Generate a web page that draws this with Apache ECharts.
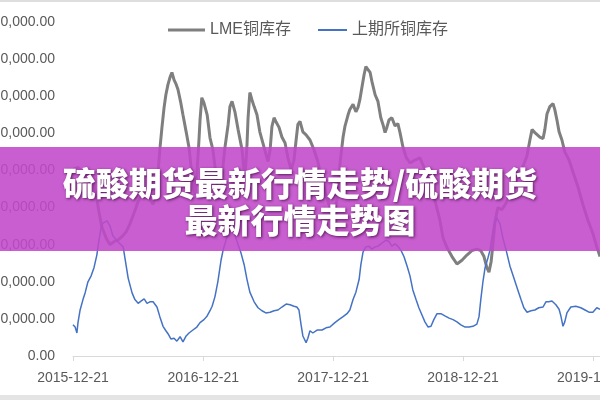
<!DOCTYPE html>
<html>
<head>
<meta charset="utf-8">
<script src="https://cdn.jsdelivr.net/npm/echarts@6/dist/echarts.min.js"></script>
<style>
html,body{margin:0;padding:0;background:#fff;}
#chart{width:600px;height:400px;}
</style>
</head>
<body>
<div id="chart"></div>
<script>
// ---- data ----
const seriesNames = ['LME铜库存', '上期所铜库存'];
const xTickLabels = ['2015-12-21', '2016-12-21', '2017-12-21', '2018-12-21', '2019-12-21'];
const xStart = '2015-12-21';
const xEnd = '2020-01-10';
const yMax = 450000;
const yStep = 50000;
const bannerLines = ['硫酸期货最新行情走势/硫酸期货', '最新行情走势图'];

const lmeDates = ['2015-12-21','2016-01-04','2016-01-18','2016-02-01','2016-02-15','2016-02-24','2016-03-03','2016-03-11','2016-03-23','2016-04-03','2016-04-14','2016-04-25','2016-05-07','2016-05-18','2016-05-29','2016-06-09','2016-06-21','2016-07-02','2016-07-13','2016-07-24','2016-08-02','2016-08-10','2016-08-16','2016-08-21','2016-08-27','2016-09-02','2016-09-07','2016-09-13','2016-09-19','2016-09-24','2016-09-30','2016-10-05','2016-10-11','2016-10-19','2016-10-25','2016-11-03','2016-11-11','2016-11-19','2016-11-28','2016-12-03','2016-12-09','2016-12-12','2016-12-17','2016-12-23','2017-01-01','2017-01-09','2017-01-17','2017-01-26','2017-02-03','2017-02-09','2017-02-15','2017-02-20','2017-03-01','2017-03-06','2017-03-12','2017-03-20','2017-03-29','2017-04-09','2017-04-17','2017-04-23','2017-04-26','2017-05-01','2017-05-07','2017-05-13','2017-05-21','2017-05-29','2017-06-10','2017-06-21','2017-06-27','2017-07-02','2017-07-08','2017-07-13','2017-07-22','2017-07-30','2017-08-08','2017-08-16','2017-08-25','2017-09-02','2017-09-08','2017-09-13','2017-09-19','2017-09-27','2017-10-06','2017-10-17','2017-10-28','2017-11-08','2017-11-20','2017-12-01','2017-12-12','2017-12-23','2018-01-01','2018-01-09','2018-01-18','2018-01-23','2018-02-01','2018-02-06','2018-02-15','2018-02-23','2018-03-01','2018-03-06','2018-03-12','2018-03-18','2018-03-23','2018-03-29','2018-04-04','2018-04-09','2018-04-18','2018-04-26','2018-05-04','2018-05-10','2018-05-16','2018-05-21','2018-05-27','2018-06-04','2018-06-13','2018-06-21','2018-06-27','2018-07-05','2018-07-14','2018-07-25','2018-08-08','2018-08-22','2018-09-05','2018-09-19','2018-10-03','2018-10-17','2018-10-26','2018-11-06','2018-11-20','2018-12-04','2018-12-18','2019-01-01','2019-01-15','2019-01-29','2019-02-09','2019-02-18','2019-02-26','2019-03-04','2019-03-10','2019-03-15','2019-03-21','2019-03-29','2019-04-09','2019-04-21','2019-04-29','2019-05-10','2019-05-24','2019-06-08','2019-06-19','2019-06-27','2019-07-03','2019-07-11','2019-07-25','2019-08-03','2019-08-08','2019-08-14','2019-08-22','2019-08-31','2019-09-05','2019-09-11','2019-09-17','2019-09-25','2019-10-03','2019-10-15','2019-10-26','2019-11-09','2019-11-23','2019-12-07','2019-12-21','2020-01-01','2020-01-10'];
const lmeValues = [251000,254000,248000,243000,237000,217000,194000,174000,159000,150000,154000,156000,161000,167000,178000,192000,208000,217000,220000,212000,204000,224000,247000,278000,308000,335000,352000,366000,376000,382000,372000,367000,359000,341000,325000,302000,281000,244000,217000,244000,291000,318000,348000,341000,325000,294000,278000,244000,210000,224000,258000,281000,312000,336000,343000,329000,305000,278000,237000,285000,321000,355000,345000,336000,325000,302000,281000,262000,278000,309000,321000,316000,308000,295000,287000,267000,251000,264000,291000,312000,316000,302000,298000,291000,278000,262000,237000,217000,200000,192000,210000,258000,295000,309000,325000,332000,339000,329000,335000,345000,362000,379000,390000,386000,382000,370000,352000,343000,321000,312000,301000,308000,318000,321000,310000,313000,301000,282000,268000,260000,264000,267000,251000,235000,210000,183000,159000,146000,134000,124000,129000,136000,142000,144000,142000,134000,119000,113000,127000,150000,181000,200000,197000,206000,216000,227000,241000,256000,270000,291000,305000,301000,295000,293000,305000,326000,336000,340000,332000,318000,302000,291000,275000,264000,248000,228000,204000,183000,165000,147000,134000];

const shfeDates = ['2015-12-21','2015-12-27','2016-01-01','2016-01-04','2016-01-10','2016-01-18','2016-01-24','2016-02-01','2016-02-10','2016-02-18','2016-02-26','2016-03-03','2016-03-09','2016-03-14','2016-03-26','2016-04-03','2016-04-11','2016-04-25','2016-05-10','2016-05-15','2016-05-24','2016-06-04','2016-06-12','2016-06-21','2016-06-29','2016-07-08','2016-07-16','2016-07-24','2016-08-02','2016-08-13','2016-08-21','2016-08-30','2016-09-07','2016-09-13','2016-09-21','2016-09-30','2016-10-08','2016-10-17','2016-10-25','2016-11-03','2016-11-11','2016-11-22','2016-12-03','2016-12-12','2016-12-23','2017-01-01','2017-01-09','2017-01-15','2017-01-23','2017-01-31','2017-02-09','2017-02-15','2017-02-23','2017-03-03','2017-03-12','2017-03-20','2017-03-29','2017-04-06','2017-04-15','2017-04-23','2017-05-01','2017-05-13','2017-05-24','2017-06-04','2017-06-15','2017-06-27','2017-07-08','2017-07-19','2017-07-30','2017-08-11','2017-08-22','2017-09-02','2017-09-10','2017-09-16','2017-09-22','2017-09-27','2017-10-06','2017-10-11','2017-10-17','2017-10-25','2017-11-06','2017-11-20','2017-12-01','2017-12-12','2017-12-26','2018-01-06','2018-01-18','2018-01-29','2018-02-06','2018-02-15','2018-02-23','2018-03-04','2018-03-09','2018-03-15','2018-03-23','2018-04-01','2018-04-09','2018-04-18','2018-04-26','2018-05-07','2018-05-19','2018-05-27','2018-06-04','2018-06-13','2018-06-21','2018-06-30','2018-07-08','2018-07-17','2018-07-25','2018-08-02','2018-08-11','2018-08-19','2018-08-28','2018-09-05','2018-09-14','2018-09-22','2018-09-30','2018-10-09','2018-10-20','2018-10-31','2018-11-12','2018-11-23','2018-12-04','2018-12-15','2018-12-27','2019-01-07','2019-01-18','2019-01-29','2019-02-04','2019-02-09','2019-02-15','2019-02-21','2019-03-01','2019-03-07','2019-03-12','2019-03-18','2019-03-26','2019-04-04','2019-04-12','2019-04-21','2019-05-02','2019-05-13','2019-05-24','2019-06-02','2019-06-10','2019-06-19','2019-06-30','2019-07-11','2019-07-22','2019-08-03','2019-08-11','2019-08-19','2019-08-28','2019-09-08','2019-09-17','2019-09-22','2019-09-28','2019-10-03','2019-10-09','2019-10-20','2019-11-03','2019-11-17','2019-11-29','2019-12-10','2019-12-21','2020-01-01','2020-01-10'];
const shfeValues = [42000,39000,31000,45000,62000,76000,85000,100000,108000,119000,136000,156000,173000,179000,182000,175000,162000,154000,147000,132000,105000,85000,76000,71000,74000,77000,71000,73000,73000,66000,53000,40000,34000,30000,23000,24000,20000,26000,19000,27000,31000,35000,39000,45000,49000,54000,61000,67000,80000,100000,129000,143000,156000,167000,173000,163000,150000,139000,123000,103000,86000,73000,65000,61000,58000,59000,61000,62000,66000,70000,69000,67000,66000,62000,42000,27000,18000,24000,34000,31000,35000,35000,38000,39000,45000,49000,53000,57000,62000,76000,86000,103000,123000,140000,147000,148000,144000,147000,148000,152000,156000,154000,148000,151000,148000,142000,134000,121000,108000,89000,76000,65000,55000,46000,39000,40000,49000,57000,57000,54000,51000,49000,46000,42000,39000,39000,40000,43000,53000,76000,100000,119000,132000,143000,159000,177000,186000,178000,159000,143000,121000,105000,89000,76000,65000,59000,61000,62000,65000,66000,73000,73000,74000,69000,63000,54000,40000,46000,58000,66000,67000,65000,62000,59000,59000,65000,63000];

// ---- chart ----
const pd = s => echarts.number.parseDate(s).getTime();
const pairs = (ds, vs) => ds.map((d, i) => [pd(d), vs[i]]);
const tickTs = xTickLabels.map(pd);
const pad2 = n => (n < 10 ? '0' : '') + n;
const fmtDate = v => { const d = new Date(v); return d.getFullYear() + '-' + pad2(d.getMonth() + 1) + '-' + pad2(d.getDate()); };

const chart = echarts.init(document.getElementById('chart'), null, {renderer: 'canvas'});
const txt = '#595959';
const font = '"Liberation Sans", Arial, "Noto Sans CJK SC", sans-serif';
chart.setOption({
  animation: false,
  backgroundColor: '#ffffff',
  grid: {left: 73, right: 0, top: 22, bottom: 44, outerBoundsMode: 'none', containLabel: false},
  legend: [
    {data: [{name: seriesNames[0], icon: 'rect'}], left: 163, top: 17, itemWidth: 37, itemHeight: 3,
     textStyle: {color: txt, fontSize: 16, fontFamily: font}},
    {data: [{name: seriesNames[1], icon: 'rect'}], left: 313, top: 17, itemWidth: 29, itemHeight: 2,
     textStyle: {color: txt, fontSize: 16, fontFamily: font}}
  ],
  xAxis: {
    type: 'value', min: pd(xStart), max: pd(xEnd),
    axisLine: {show: true, lineStyle: {color: '#d9d9d9', width: 1}},
    axisTick: {show: true, customValues: tickTs, length: 5, lineStyle: {color: '#d9d9d9'}},
    axisLabel: {customValues: tickTs, formatter: v => fmtDate(v), color: txt, fontSize: 14, fontFamily: font, margin: 15, hideOverlap: false},
    splitLine: {show: false}
  },
  yAxis: {
    type: 'value', min: 0, max: yMax, interval: yStep,
    axisLine: {show: false}, axisTick: {show: false},
    axisLabel: {formatter: v => v.toLocaleString('en-US', {minimumFractionDigits: 2, maximumFractionDigits: 2}),
      color: txt, fontSize: 14, fontFamily: font, margin: 18},
    splitLine: {show: false}
  },
  series: [
    {name: seriesNames[0], type: 'line', data: pairs(lmeDates, lmeValues), showSymbol: false, symbol: 'none',
     lineStyle: {color: '#7f7f7f', width: 3}, itemStyle: {color: '#7f7f7f'}, z: 2},
    {name: seriesNames[1], type: 'line', data: pairs(shfeDates, shfeValues), showSymbol: false, symbol: 'none',
     lineStyle: {color: '#4472c4', width: 1.5}, itemStyle: {color: '#4472c4'}, z: 3}
  ],
  graphic: [
    {type: 'rect', z: 100, shape: {x: 0, y: 0, width: 600, height: 2}, style: {fill: '#dedede'}},
    {type: 'rect', z: 100, shape: {x: 0, y: 395, width: 600, height: 5}, style: {fill: '#e4e4e4'}},
    {type: 'rect', z: 100, shape: {x: 0, y: 147, width: 600, height: 104}, style: {fill: 'rgba(192,72,200,0.88)'}},
    {type: 'text', z: 101, x: 300, y: 183, style: {text: bannerLines[0], fill: '#ffffff', font: '900 33px "Noto Sans CJK SC", sans-serif',
      align: 'center', verticalAlign: 'middle', textShadowColor: 'rgba(50,0,50,0.75)', textShadowBlur: 3, textShadowOffsetX: 1, textShadowOffsetY: 1}},
    {type: 'text', z: 101, x: 300, y: 220, style: {text: bannerLines[1], fill: '#ffffff', font: '900 33px "Noto Sans CJK SC", sans-serif',
      align: 'center', verticalAlign: 'middle', textShadowColor: 'rgba(50,0,50,0.75)', textShadowBlur: 3, textShadowOffsetX: 1, textShadowOffsetY: 1}}
  ]
});
</script>
</body>
</html>
